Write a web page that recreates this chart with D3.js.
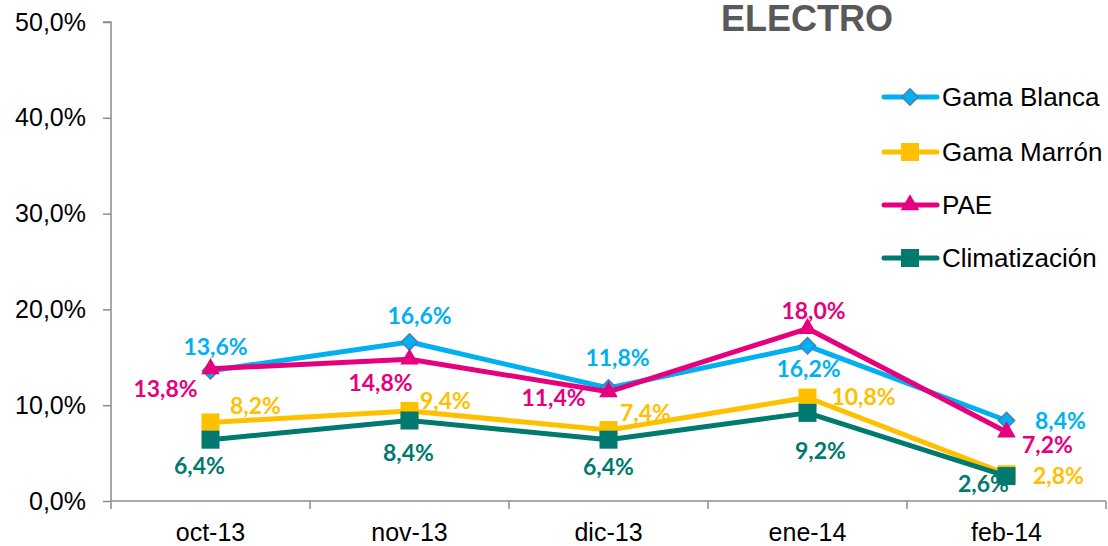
<!DOCTYPE html>
<html>
<head>
<meta charset="utf-8">
<script src="https://cdn.jsdelivr.net/npm/d3@7"></script>
<style>
  body { margin: 0; background: #fff; }
  svg { display: block; }
  .tick-label { font-family: "Liberation Sans", Arial, sans-serif; font-size: 25px; fill: #000; }
  .leg-label { font-family: "Liberation Sans", Arial, sans-serif; font-size: 26px; fill: #000; }
  .val { font-family: Lato, "Open Sans", sans-serif; font-weight: bold; font-size: 23px; }
</style>
</head>
<body>
<svg width="1108" height="546"></svg>
<script>
// data
const months = ["oct-13", "nov-13", "dic-13", "ene-14", "feb-14"];
const gamaBlanca = [13.6, 16.6, 11.8, 16.2, 8.4];
const gamaMarron = [8.2, 9.4, 7.4, 10.8, 2.8];
const pae = [13.8, 14.8, 11.4, 18.0, 7.2];
const climatizacion = [6.4, 8.4, 6.4, 9.2, 2.6];
const yTicks = [0, 10, 20, 30, 40, 50];

// where each data label sits relative to its point
const offBlanca = [[5, -25], [10, -27], [9, -31], [1, 22], [54, -1]];
const offMarron = [[45, -17], [36, -11], [37, -18], [56, -2], [52, 1]];
const offPae = [[-45, 19], [-29, 23], [-55, 5], [6, -19], [41, 12]];
const offClima = [[-11, 25], [-1, 31], [0, 26], [13, 37], [-23, 7]];

const series = [
  {name: "Gama Blanca", values: gamaBlanca, color: "#00B0F0", marker: "diamond", off: offBlanca},
  {name: "Gama Marrón", values: gamaMarron, color: "#FFC000", marker: "square", off: offMarron},
  {name: "PAE", values: pae, color: "#E6007E", marker: "triangle", off: offPae},
  {name: "Climatización", values: climatizacion, color: "#00796F", marker: "square", off: offClima}
];

const fmt = v => v.toFixed(1).replace(".", ",") + "%";

const svg = d3.select("svg");
const plotLeft = 111, plotRight = 1106, plotTop = 22, plotBottom = 501;

const x = d3.scaleBand().domain(months).range([plotLeft, plotRight]);
const y = d3.scaleLinear().domain([0, 50]).range([plotBottom, plotTop]);

// axes
const axisColor = "#8c8c8c";
const gy = svg.append("g").attr("transform", `translate(${plotLeft},0)`)
  .call(d3.axisLeft(y).tickValues(yTicks).tickSize(8).tickPadding(17).tickFormat(d => fmt(d)));
gy.select(".domain").attr("stroke", axisColor).attr("stroke-width", 1.5).attr("d", `M-8,${plotTop}H0V${plotBottom}`);
gy.selectAll(".tick line").attr("stroke", axisColor).attr("stroke-width", 1.5);
gy.selectAll(".tick text").attr("class", "tick-label");
gy.attr("font-family", null).attr("font-size", null);

const gx = svg.append("g").attr("transform", `translate(0,${plotBottom})`)
  .call(d3.axisBottom(x).tickSize(0).tickPadding(22));
gx.select(".domain").attr("stroke", axisColor).attr("stroke-width", 1.5).attr("d", `M${plotLeft},0H${plotRight}`);
gx.selectAll(".tick text").attr("class", "tick-label");
gx.attr("font-family", null).attr("font-size", null);
// band separators as ticks
gx.selectAll(".sep").data(months.concat([null])).join("line")
  .attr("x1", (d, i) => plotLeft + i * x.bandwidth())
  .attr("x2", (d, i) => plotLeft + i * x.bandwidth())
  .attr("y1", 0).attr("y2", 8)
  .attr("stroke", axisColor).attr("stroke-width", 1.5);

const cx = d => x(d) + x.bandwidth() / 2;

function drawMarker(g, type, color, px, py) {
  if (type === "diamond") {
    g.append("path")
      .attr("d", d3.symbol(d3.symbolDiamond2, 170)())
      .attr("transform", `translate(${px},${py})`)
      .attr("fill", color).attr("stroke", "#4A7EBB").attr("stroke-width", 1.5);
  } else if (type === "triangle") {
    g.append("path")
      .attr("d", d3.symbol(d3.symbolTriangle, 150)())
      .attr("transform", `translate(${px},${py})`)
      .attr("fill", color);
  } else {
    g.append("rect")
      .attr("x", px - 9).attr("y", py - 9).attr("width", 18).attr("height", 18)
      .attr("fill", color);
  }
}

const line = d3.line().x((d, i) => cx(months[i])).y(d => y(d));

series.forEach(s => {
  const g = svg.append("g");
  g.append("path").datum(s.values)
    .attr("d", line)
    .attr("fill", "none")
    .attr("stroke", s.color)
    .attr("stroke-width", 5)
    .attr("stroke-linejoin", "round");
  s.values.forEach((v, i) => drawMarker(g, s.marker, s.color, cx(months[i]), y(v)));
});

// data labels on top
series.forEach(s => {
  svg.append("g").selectAll("text").data(s.values).join("text")
    .attr("class", "val")
    .attr("x", (d, i) => cx(months[i]) + s.off[i][0])
    .attr("y", (d, i) => y(d) + s.off[i][1])
    .attr("text-anchor", "middle")
    .attr("dominant-baseline", "central")
    .attr("fill", s.color)
    .text(d => fmt(d));
});

// title
svg.append("text")
  .attr("x", 807).attr("y", 31)
  .attr("text-anchor", "middle")
  .attr("font-family", "'Liberation Sans', Arial, sans-serif")
  .attr("font-weight", "bold")
  .attr("font-size", 36)
  .attr("fill", "#595959")
  .text("ELECTRO");

// legend
const legY = [97, 152, 205, 258];
const leg = svg.append("g");
series.forEach((s, i) => {
  const ly = legY[i];
  leg.append("line")
    .attr("x1", 884).attr("x2", 937).attr("y1", ly).attr("y2", ly)
    .attr("stroke", s.color).attr("stroke-width", 5).attr("stroke-linecap", "round");
  drawMarker(leg, s.marker, s.color, 910, ly);
  leg.append("text")
    .attr("class", "leg-label")
    .attr("x", 942).attr("y", ly)
    .attr("dominant-baseline", "central")
    .text(s.name);
});
</script>
</body>
</html>
